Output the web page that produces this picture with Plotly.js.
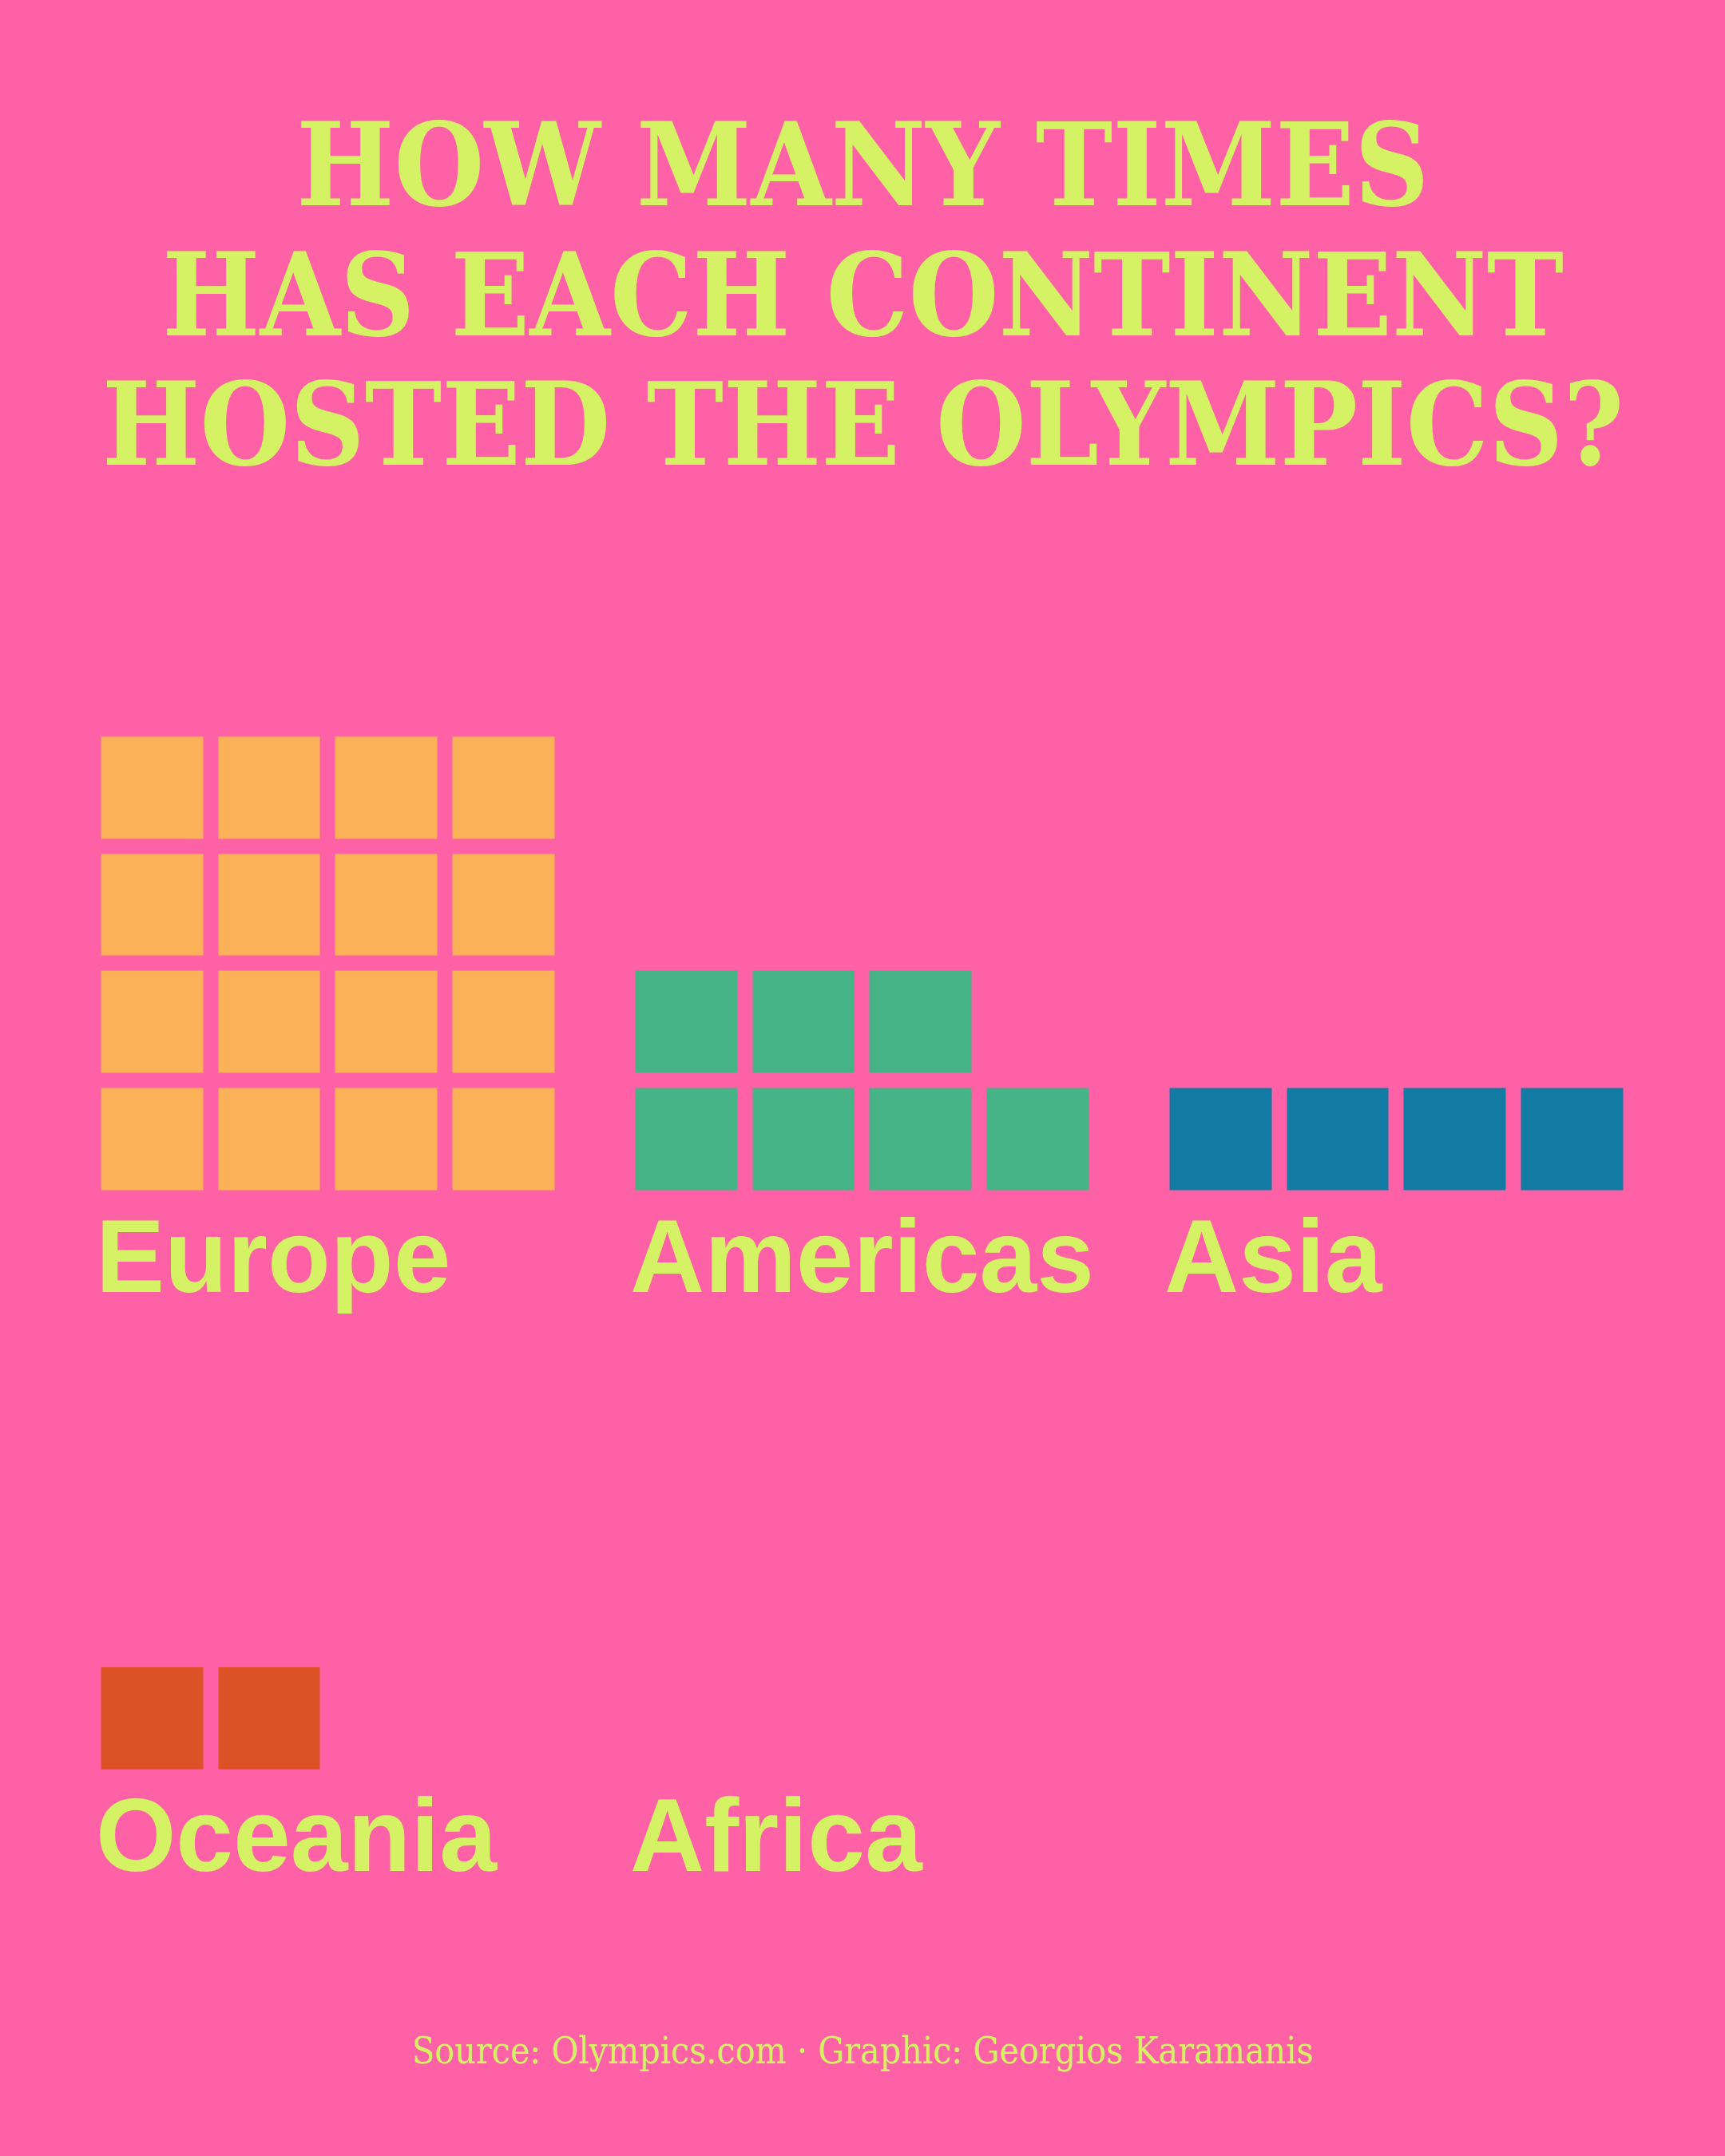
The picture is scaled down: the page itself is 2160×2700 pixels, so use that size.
<!DOCTYPE html>
<html>
<head>
<meta charset="utf-8">
<script src="https://cdn.plot.ly/plotly-3.0.1.min.js"></script>
<style>html,body{margin:0;padding:0;background:#FF61A6;}#chart{width:2160px;height:2700px;}</style>
</head>
<body>
<div id="chart"></div>
<script>
// ---- data ----
const continents = ['Europe', 'Americas', 'Asia', 'Oceania', 'Africa'];
const hosted = [16, 7, 4, 2, 0];
const tileColors = ['#FAB157', '#45B386', '#127BA3', '#DB5227', '#D5F264'];
const titleLines = ['HOW MANY TIMES', 'HAS EACH CONTINENT', 'HOSTED THE OLYMPICS?'];
const caption = 'Source: Olympics.com \u00B7 Graphic: Georgios Karamanis';
const tilesPerRow = 4;
const maxRows = 4;

// ---- layout helpers ----
const W = 2160, H = 2700;
const bg = '#FF61A6';
const ink = '#D5F264';
const px = v => v / W;
const py = v => 1 - v / H;

const colLeft = [117.5, 786.5, 1455.5];
const panelW = 586.8;
const rowTop = [913.5, 1638.8];
const panelH = 586.7;
const labelMid = [1573, 2298];

const traces = [];
const layout = {
  width: W, height: H,
  paper_bgcolor: bg, plot_bgcolor: bg,
  margin: {l: 0, r: 0, t: 0, b: 0},
  showlegend: false,
  annotations: [],
};

continents.forEach((name, i) => {
  const c = i % 3, r = Math.floor(i / 3);
  const idx = i === 0 ? '' : String(i + 1);
  const xa = 'xaxis' + idx, ya = 'yaxis' + idx;
  const z = [];
  for (let rr = 0; rr < maxRows; rr++) {
    const row = [];
    for (let cc = 0; cc < tilesPerRow; cc++) {
      const k = rr * tilesPerRow + cc;
      row.push(k < hosted[i] ? 1 : null);
    }
    z.push(row);
  }
  traces.push({
    type: 'heatmap',
    z: z,
    x: [0, 1, 2, 3],
    y: [0, 1, 2, 3],
    xaxis: 'x' + idx, yaxis: 'y' + idx,
    colorscale: [[0, tileColors[i]], [1, tileColors[i]]],
    zmin: 0, zmax: 1,
    showscale: false,
    xgap: 19, ygap: 19,
    hoverinfo: 'skip'
  });
  layout[xa] = {
    domain: [px(colLeft[c]), px(colLeft[c] + panelW)],
    range: [-0.5, 3.5], visible: false, fixedrange: true,
    anchor: 'y' + idx
  };
  layout[ya] = {
    domain: [py(rowTop[r] + panelH), py(rowTop[r])],
    range: [-0.5, 3.5], visible: false, fixedrange: true,
    anchor: 'x' + idx
  };
  layout.annotations.push({
    text: name,
    xref: 'paper', yref: 'paper',
    x: px(colLeft[c]), y: py(labelMid[r]),
    xanchor: 'left', yanchor: 'middle',
    showarrow: false,
    font: {family: 'Liberation Sans, Arial, sans-serif', size: 129, color: ink, weight: 'bold'}
  });
});

const titleMid = [206, 369, 532];
titleLines.forEach((t, j) => {
  layout.annotations.push({
    text: t,
    xref: 'paper', yref: 'paper',
    x: 0.5, y: py(titleMid[j]),
    xanchor: 'center', yanchor: 'middle',
    showarrow: false,
    font: {family: 'DejaVu Serif Condensed, DejaVu Serif, serif', size: 144, color: ink, weight: 'bold'}
  });
});

layout.annotations.push({
  text: caption,
  xref: 'paper', yref: 'paper',
  x: 0.5, y: py(2568),
  xanchor: 'center', yanchor: 'middle',
  showarrow: false,
  font: {family: 'DejaVu Serif Condensed, DejaVu Serif, serif', size: 46, color: ink}
});

Plotly.newPlot('chart', traces, layout, {displayModeBar: false, staticPlot: true});
</script>
</body>
</html>
